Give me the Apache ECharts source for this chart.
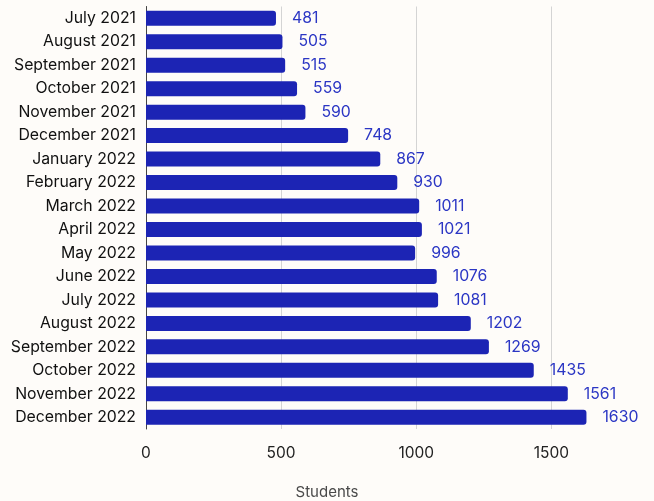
<!DOCTYPE html>
<html>
<head>
<meta charset="utf-8">
<script src="https://cdn.jsdelivr.net/npm/echarts@6/dist/echarts.min.js"></script>
<style>
  html, body { margin: 0; padding: 0; background: #fefcf9; }
  #chart { width: 654px; height: 501px; }
</style>
</head>
<body>
<div id="chart"></div>
<script>
var months = ['July 2021', 'August 2021', 'September 2021', 'October 2021', 'November 2021',
  'December 2021', 'January 2022', 'February 2022', 'March 2022', 'April 2022', 'May 2022',
  'June 2022', 'July 2022', 'August 2022', 'September 2022', 'October 2022', 'November 2022',
  'December 2022'];
var students = [481, 505, 515, 559, 590, 748, 867, 930, 1011, 1021, 996, 1076, 1081, 1202,
  1269, 1435, 1561, 1630];

var chart = echarts.init(document.getElementById('chart'));

var option = {
  backgroundColor: '#fefcf9',
  animation: false,
  textStyle: { fontFamily: 'Inter' },
  title: {
    text: 'Students',
    left: 'center',
    top: 480,
    textStyle: { color: '#4a4a4a', fontSize: 15, fontWeight: 'normal', fontFamily: 'Inter' }
  },
  grid: { left: 146, right: 0, top: 6.5, height: 422.5 },
  xAxis: {
    type: 'value',
    min: 0,
    max: 1880,
    interval: 500,
    axisLine: { show: false },
    axisTick: { show: false },
    axisLabel: {
      color: '#222', fontSize: 15.5, margin: 16, showMaxLabel: false,
      formatter: function (v) { return String(v); }
    },
    splitLine: { show: true, showMinLine: false, showMaxLine: false, lineStyle: { color: '#d4d4d4', width: 1 } }
  },
  yAxis: {
    type: 'category',
    data: months,
    inverse: true,
    axisLine: { show: true, lineStyle: { color: '#444', width: 1 } },
    axisTick: { show: false },
    axisLabel: { color: '#111', fontSize: 15.8, margin: 10 }
  },
  series: [{
    type: 'bar',
    data: students,
    barWidth: 15,
    itemStyle: { color: '#1c24b4', borderRadius: [0, 3, 3, 0] },
    label: {
      show: true,
      position: 'right',
      distance: 16,
      color: '#2b36c4',
      fontSize: 15.8
    }
  }]
};

chart.setOption(option);
</script>
</body>
</html>
